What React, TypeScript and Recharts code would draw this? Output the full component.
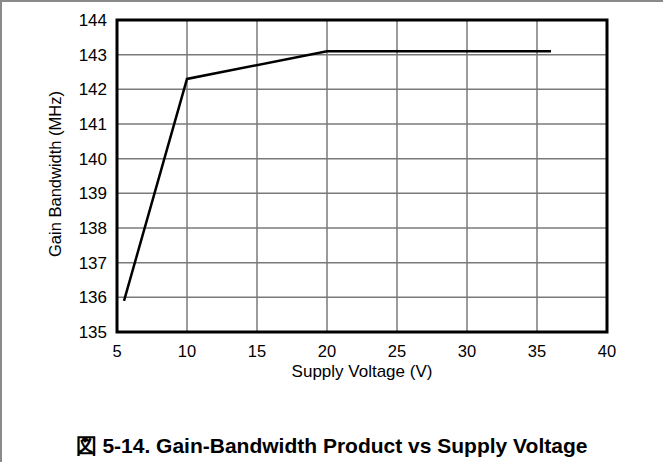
import {
  LineChart,
  Line,
  XAxis,
  YAxis,
  CartesianGrid,
  ReferenceArea,
} from "recharts";

// supply voltage (V) vs gain bandwidth (MHz)
const voltage = [5.5, 10, 20, 36];
const gainBw = [135.9, 142.3, 143.1, 143.1];

const xTicks = [5, 10, 15, 20, 25, 30, 35, 40];
const yTicks = [135, 136, 137, 138, 139, 140, 141, 142, 143, 144];

const caption = "図 5-14. Gain-Bandwidth Product vs Supply Voltage";

const data = voltage.map((v, i) => ({ v, gbw: gainBw[i] }));

const FONT = "'Liberation Sans', Arial, sans-serif";

export default function App() {
  return (
    <div
      style={{
        position: "relative",
        width: 663,
        height: 462,
        background: "#fff",
        fontFamily: FONT,
        boxSizing: "border-box",
        borderTop: "2px solid #8a8a8a",
        borderLeft: "2px solid #8a8a8a",
        overflow: "hidden",
      }}
    >
      <style>{`body{margin:0}`}</style>
      <div style={{ position: "absolute", left: -2, top: -2 }}>
        <LineChart
          width={663}
          height={462}
          data={data}
          margin={{ top: 20, right: 56, left: 0, bottom: 0 }}
        >
          <CartesianGrid
            stroke="#7a7a7a"
            strokeWidth={1.5}
            horizontalValues={yTicks}
            verticalValues={xTicks}
          />
          <XAxis
            dataKey="v"
            type="number"
            domain={[5, 40]}
            ticks={xTicks}
            height={130}
            tickLine={false}
            tickSize={0}
            tickMargin={13}
            axisLine={false}
            tick={{ fill: "#000", fontSize: 16.5, fontFamily: FONT }}
            label={{
              value: "Supply Voltage (V)",
              position: "insideTop",
              offset: 33,
              fill: "#000",
              fontSize: 17,
              fontFamily: FONT,
            }}
          />
          <YAxis
            type="number"
            domain={[135, 144]}
            ticks={yTicks}
            width={117}
            tickLine={false}
            tickSize={0}
            tickMargin={10}
            axisLine={false}
            tick={{ fill: "#000", fontSize: 17, fontFamily: FONT }}
            label={({ viewBox }: any) => {
              const cx = viewBox.x + 55;
              const cy = viewBox.y + viewBox.height / 2 - 2;
              return (
                <text
                  x={cx}
                  y={cy}
                  transform={`rotate(-90, ${cx}, ${cy})`}
                  textAnchor="middle"
                  dominantBaseline="central"
                  fill="#000"
                  fontSize={16.5}
                  fontFamily={FONT}
                >
                  Gain Bandwidth (MHz)
                </text>
              );
            }}
          />
          <ReferenceArea
            x1={5}
            x2={40}
            y1={135}
            y2={144}
            fill="none"
            fillOpacity={0}
            stroke="#000"
            strokeWidth={3}
          />
          <Line
            type="linear"
            dataKey="gbw"
            stroke="#000"
            strokeWidth={2.5}
            dot={false}
            isAnimationActive={false}
          />
        </LineChart>
      </div>
      <div
        style={{
          position: "absolute",
          left: -2,
          top: 432,
          width: 663,
          textAlign: "center",
          fontWeight: "bold",
          fontSize: 21,
          lineHeight: "24px",
          color: "#000",
        }}
      >
        {caption}
      </div>
    </div>
  );
}
